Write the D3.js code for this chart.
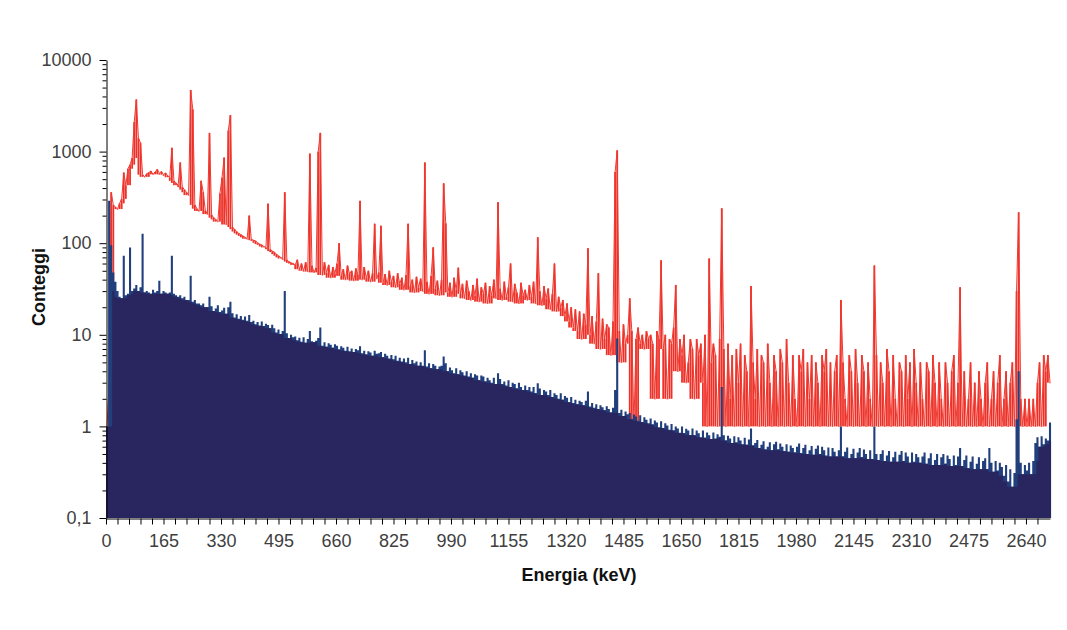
<!DOCTYPE html>
<html>
<head>
<meta charset="utf-8">
<script src="https://cdn.jsdelivr.net/npm/d3@7/dist/d3.min.js"></script>
<style>
  body { margin: 0; background: #fff; }
  svg text { font-family: Arial, "Liberation Sans", sans-serif; }
</style>
</head>
<body>
<svg id="chart" width="1067" height="630"></svg>
<script>
// energy bins of 6 keV, starting at 0 keV
var binWidth = 6;

// red spectrum (counts per bin)
var redCounts = [
  1, 3, 360, 262, 248, 236, 272, 305, 590, 430,
  650, 720, 850, 2100, 3700, 1400, 1250, 560, 530, 575,
  590, 615, 565, 600, 640, 580, 605, 560, 585, 545,
  525, 1100, 480, 455, 430, 760, 410, 385, 360, 335,
  4700, 2900, 262, 238, 225, 480, 360, 228, 208, 1600,
  205, 190, 182, 172, 350, 520, 860, 160, 1700, 2500,
  150, 142, 134, 128, 124, 120, 116, 112, 200, 110,
  108, 106, 101, 98, 96, 92, 90, 270, 86, 82,
  80, 76, 73, 70, 68, 360, 66, 63, 61, 60,
  58, 66, 52, 60, 50, 62, 49, 950, 57, 48,
  54, 1000, 1600, 45, 62, 48, 58, 42, 55, 47,
  60, 100, 44, 52, 40, 57, 46, 50, 39, 53,
  45, 290, 40, 55, 42, 50, 38, 47, 163, 41,
  48, 155, 37, 46, 35, 50, 38, 44, 33, 47,
  36, 42, 31, 45, 163, 34, 40, 29, 43, 33,
  41, 30, 760, 38, 28, 44, 90, 32, 39, 27,
  40, 450, 165, 29, 37, 26, 42, 31, 54, 28,
  36, 25, 39, 30, 24, 35, 27, 41, 23, 33,
  28, 37, 22, 34, 27, 40, 25, 280, 32, 24,
  38, 26, 33, 60, 23, 36, 29, 22, 37, 27,
  31, 24, 35, 26, 38, 22, 116, 30, 21, 34,
  25, 32, 19, 28, 60, 18, 26, 20, 24, 16,
  22, 14, 20, 12, 19, 11, 18, 9, 17, 13,
  88, 10, 16, 8, 14, 47, 7, 15, 9, 13,
  12, 6, 14, 600, 1030, 11, 5, 13, 8, 10,
  25, 11, 1, 9, 12, 8, 10, 7, 11, 9,
  10, 8, 2, 11, 9, 65, 7, 10, 2, 9,
  8, 12, 35, 4, 9, 6, 10, 3, 5, 9,
  7, 2, 9, 6, 8, 3, 10, 1, 68, 5,
  8, 6, 1, 9, 240, 7, 1, 8, 2, 6,
  1, 7, 3, 8, 1, 6, 4, 1, 34, 5,
  2, 7, 1, 6, 5, 1, 8, 3, 1, 6,
  4, 1, 7, 5, 1, 9, 3, 1, 6, 2,
  1, 6, 4, 7, 1, 5, 2, 6, 1, 5,
  3, 1, 6, 4, 7, 1, 5, 1, 4, 6,
  1, 24, 5, 2, 1, 6, 4, 1, 7, 3,
  1, 6, 4, 1, 5, 2, 1, 57, 6, 1,
  5, 3, 1, 7, 4, 1, 6, 2, 1, 5,
  4, 1, 6, 2, 5, 1, 7, 3, 1, 5,
  2, 1, 5, 4, 1, 6, 3, 1, 5, 2,
  1, 5, 3, 1, 4, 6, 1, 3, 33, 1,
  4, 1, 2, 5, 1, 3, 1, 4, 2, 1,
  3, 5, 1, 2, 4, 1, 3, 6, 1, 2,
  4, 1, 3, 5, 1, 30, 217, 2, 1, 2,
  1, 2, 1, 2, 1, 3, 5, 1, 6, 4,
  6, 3
];

// navy spectrum (counts per bin)
var navyCounts = [
  1, 290, 95, 48, 38, 30, 26, 25, 73, 27,
  28, 90, 30, 32, 35, 30, 33, 127, 29, 30,
  29, 28, 31, 29, 30, 39, 28, 30, 29, 28,
  29, 73, 28, 27, 26, 27, 25, 26, 24, 24,
  44, 23, 24, 22, 22, 21, 22, 20, 20, 26,
  20.5, 18.2, 19.4, 21, 17.6, 18.4, 19.8, 17, 20, 23,
  17.2, 15.4, 16.8, 15, 16, 14.6, 15.8, 14.2, 16.4, 13.8,
  14.2, 13, 13.8, 12.6, 14, 12.4, 13.2, 12.8, 11.8, 12.9,
  11.8, 10.6, 11.4, 10.2, 11, 30, 10.4, 9.2, 10, 9.4,
  9.6, 8.7, 9.3, 8.4, 9.4, 8.2, 9, 11, 8.5, 8.3,
  8.6, 9.2, 12, 7.6, 8.3, 7.4, 8.1, 7.8, 7.2, 7.9,
  7.6, 6.9, 7.5, 7.2, 6.7, 7.4, 6.6, 7.1, 6.5, 7,
  6.8, 7.5, 6.3, 6.7, 6.1, 6.6, 6.4, 5.9, 6.7, 6.2,
  6.3, 6.5, 5.7, 6.2, 5.9, 5.5, 6, 5.4, 5.9, 5.2,
  5.6, 5.1, 5.5, 5, 5.6, 4.8, 5.3, 4.9, 5.1, 4.6,
  5, 4.6, 6.8, 4.5, 4.9, 4.3, 4.8, 4.6, 4.2, 4.5,
  4.6, 5.8, 4.9, 4, 4.4, 4.1, 3.8, 4.3, 3.7, 4.1,
  3.9, 3.6, 4, 3.5, 3.8, 3.4, 3.7, 3.6, 3.2, 3.6,
  3.5, 3.1, 3.4, 3.2, 3, 3.4, 2.9, 3.8, 3.3, 2.9,
  3.1, 2.8, 3.2, 2.7, 3, 2.9, 2.6, 3, 2.7, 2.5,
  2.8, 2.5, 2.7, 2.4, 2.7, 2.3, 2.95, 2.6, 2.2, 2.5,
  2.4, 2.2, 2.5, 2.1, 2.3, 2.2, 2, 2.3, 1.95, 2.15,
  2.05, 1.85, 2.1, 1.8, 1.95, 1.75, 1.9, 1.85, 1.7, 1.9,
  2.4, 1.65, 1.8, 1.6, 1.75, 1.55, 1.7, 1.62, 1.5, 1.66,
  1.55, 1.42, 1.6, 2.5, 9.1, 1.4, 1.52, 1.3, 1.45, 1.36,
  1.4, 1.2, 1.35, 1.28, 1.15, 1.32, 1.12, 1.26, 1.18, 1.08,
  1.22, 1.05, 1.16, 1.1, 0.98, 1.14, 0.96, 1.08, 1.02, 0.92,
  1.06, 0.9, 1.0, 0.95, 0.85, 1.0, 0.84, 0.94, 0.9, 0.8,
  0.95, 0.8, 0.9, 0.84, 0.76, 0.9, 0.75, 0.86, 0.8, 0.73,
  0.86, 0.74, 0.82, 0.77, 2.7, 0.8, 0.7, 0.79, 0.74, 0.66,
  0.78, 0.67, 0.76, 0.7, 0.64, 0.75, 0.63, 0.72, 0.95, 0.62,
  0.66, 0.71, 0.58, 0.63, 0.69, 0.56, 0.6, 0.67, 0.55, 0.64,
  0.68, 0.56, 0.65, 0.6, 0.54, 0.64, 0.53, 0.62, 0.58, 0.52,
  0.6, 0.65, 0.51, 0.58, 0.63, 0.5, 0.55, 0.61, 0.49, 0.57,
  0.62, 0.5, 0.6, 0.55, 0.48, 0.59, 0.47, 0.58, 0.53, 0.47,
  0.55, 1.0, 0.47, 0.53, 0.59, 0.45, 0.5, 0.57, 0.45, 0.52,
  0.58, 0.46, 0.56, 0.5, 0.44, 0.55, 0.44, 1.0, 0.5, 0.43,
  0.5, 0.55, 0.42, 0.48, 0.54, 0.41, 0.46, 0.53, 0.41, 0.49,
  0.54, 0.42, 0.52, 0.47, 0.4, 0.52, 0.41, 0.5, 0.46, 0.4,
  0.47, 0.52, 0.39, 0.45, 0.51, 0.38, 0.43, 0.5, 0.38, 0.46,
  0.5, 0.39, 0.48, 0.44, 0.37, 0.48, 0.38, 0.47, 0.58, 0.37,
  0.43, 0.48, 0.35, 0.41, 0.47, 0.34, 0.39, 0.46, 0.34, 0.42,
  0.45, 0.34, 0.58, 0.4, 0.32, 0.42, 0.33, 0.4, 0.36, 0.29,
  0.38, 0.25, 0.34, 0.22, 0.31, 1.2, 4.0, 0.4, 0.3, 0.38,
  0.33, 0.4, 0.3, 0.42, 0.66, 0.76, 0.6, 0.78, 0.64, 0.74,
  0.7, 1.1
];

var yMajorTicks = [0.1, 1, 10, 100, 1000, 10000];
var xLabelValues = [0, 165, 330, 495, 660, 825, 990, 1155, 1320, 1485, 1650, 1815, 1980, 2145, 2310, 2475, 2640];
var xTickStep = 33;

(function() {
  var svg = d3.select('#chart');

  var x = d3.scaleLinear().domain([0, 2709]).range([106, 1050]);
  var y = d3.scaleLog().domain([0.1, 10000]).range([518, 60]);

  var binPx = x(binWidth) - x(0);
  var binX = function(d, i) { return x(i * binWidth) + binPx / 2; };

  // lowest value around each bin, used for the dense body of the noisy traces
  var rollingMin = function(arr, half) {
    return arr.map(function(d, i) {
      return d3.min(arr.slice(Math.max(0, i - half), i + half + 1));
    });
  };

  // ---- red trace (drawn first, navy goes over it)
  var redFloor = rollingMin(redCounts, 2);
  var red = svg.append('g').attr('class', 'red');

  red.selectAll('rect')
    .data(redCounts)
    .enter().append('rect')
    .attr('x', function(d, i) { return binX(d, i) - 0.9; })
    .attr('width', 1.8)
    .attr('y', function(d) { return y(d); })
    .attr('height', function(d, i) { return Math.max(0.5, y(redFloor[i]) - y(d)); })
    .attr('fill', '#ee3128');

  red.append('path')
    .datum(redCounts)
    .attr('d', d3.line().x(binX).y(function(d) { return y(d); }))
    .attr('fill', 'none')
    .attr('stroke', '#ef3a31')
    .attr('stroke-width', 1)
    .attr('stroke-linejoin', 'bevel');

  // ---- navy histogram: lighter noisy top, dark solid body
  var navyFloor = rollingMin(navyCounts, 2);
  var navyArea = d3.area()
    .curve(d3.curveStepAfter)
    .x(function(d, i) { return x(i * binWidth); })
    .y0(y(0.1))
    .y1(function(d) { return y(d); });

  var navyTop = navyCounts.concat([navyCounts[navyCounts.length - 1]]);
  var navyBody = navyFloor.concat([navyFloor[navyFloor.length - 1]]);

  svg.append('path')
    .datum(navyTop)
    .attr('d', navyArea)
    .attr('fill', '#213f7c');

  svg.append('path')
    .datum(navyBody)
    .attr('d', navyArea)
    .attr('fill', '#29255f');

  // ---- axes
  var commaFormat = function(d) { return d < 1 ? String(d).replace('.', ',') : String(d); };

  var yMinorTicks = [];
  [0.1, 1, 10, 100, 1000].forEach(function(dec) {
    for (var k = 2; k <= 9; k++) yMinorTicks.push(dec * k);
  });

  svg.append('g')
    .attr('class', 'y-minor')
    .attr('transform', 'translate(106.5,0)')
    .call(d3.axisLeft(y).tickValues(yMinorTicks).tickSize(4).tickFormat(''))
    .call(function(g) { g.select('.domain').remove(); });

  svg.append('g')
    .attr('class', 'y-axis')
    .attr('transform', 'translate(106.5,0)')
    .call(d3.axisLeft(y).tickValues(yMajorTicks).tickSize(7).tickSizeOuter(0).tickPadding(8).tickFormat(commaFormat));

  svg.append('g')
    .attr('class', 'x-axis')
    .attr('transform', 'translate(0,518.5)')
    .call(d3.axisBottom(x)
      .tickValues(d3.range(0, 2700, xTickStep))
      .tickSize(6)
      .tickSizeOuter(0)
      .tickPadding(10)
      .tickFormat(function(d) { return xLabelValues.indexOf(d) >= 0 ? d : ''; }));

  svg.selectAll('.tick line').attr('stroke', '#000');
  svg.selectAll('.domain').attr('stroke', '#000');
  svg.selectAll('.tick text')
    .attr('fill', '#3f3f3f')
    .style('font-size', '18px');

  svg.append('text')
    .attr('x', 579)
    .attr('y', 581)
    .attr('text-anchor', 'middle')
    .style('font-size', '18px')
    .style('font-weight', 'bold')
    .attr('fill', '#111')
    .text('Energia (keV)');

  svg.append('text')
    .attr('transform', 'translate(45,287) rotate(-90)')
    .attr('text-anchor', 'middle')
    .style('font-size', '18px')
    .style('font-weight', 'bold')
    .attr('fill', '#111')
    .text('Conteggi');
})();
</script>
</body>
</html>
